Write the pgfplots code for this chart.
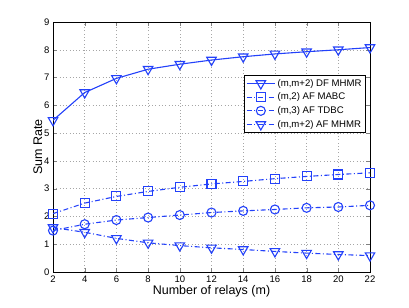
\documentclass[border=0pt]{standalone}
\usepackage{pgfplots}
\pgfplotsset{compat=1.18}
\usepackage{fontspec}
\setmainfont{Liberation Sans}
\definecolor{mblue}{RGB}{35,65,250}
\begin{document}
\begin{tikzpicture}
\begin{axis}[
  scale only axis, width=317pt, height=250pt,
  xmin=2, xmax=22, ymin=0, ymax=9,
  xtick={2,4,...,22}, ytick={0,1,...,9},
  tick align=inside, tick pos=both,
  major tick length=4pt,
  grid=major,
  grid style={dash pattern=on 0.7pt off 2.6pt, gray!70, line width=0.5pt},
  axis line style={line width=0.6pt},
  /pgf/number format/assume math mode=true,
  tick label style={font=\fontsize{9.5}{10}\selectfont},
  label style={font=\fontsize{12.5}{14}\selectfont},
  xlabel={Number of relays (m)},
  ylabel={Sum Rate},
  xlabel style={yshift=4pt},
  ylabel style={yshift=-5pt},
  legend style={at={(rel axis cs:0.987,0.788)}, anchor=north east,
    font=\fontsize{9.6}{10.5}\selectfont, draw=black, line width=0.6pt,
    inner sep=2pt, row sep=1.2pt, fill=white},
  legend cell align=left,
  legend image code/.code={\draw[mark repeat=2,mark phase=2] plot coordinates {(0cm,0cm) (0.5cm,0cm) (1.0cm,0cm)};},
  every axis plot/.append style={line width=1.1pt, color=mblue},
  mdashdot/.style={dash pattern=on 5pt off 2.5pt on 1pt off 2.5pt},
]
\addplot[solid, mark=triangle, mark size=5.5pt, mark options={rotate=180, solid, fill=white}] coordinates {
(2,5.46) (4,6.46) (6,6.97) (8,7.3) (10,7.48) (12,7.63) (14,7.75) (16,7.85) (18,7.93) (20,8.0) (22,8.08)};
\addlegendentry{(m,m+2) DF MHMR}
\addplot[mdashdot, mark=square, mark size=4.5pt, mark options={solid, fill=white}] coordinates {
(2,2.1) (4,2.48) (6,2.72) (8,2.9) (10,3.05) (12,3.17) (14,3.26) (16,3.36) (18,3.44) (20,3.51) (22,3.57)};
\addlegendentry{(m,2) AF MABC}
\addplot[mdashdot, mark=o, mark size=4.5pt, mark options={solid, fill=white}] coordinates {
(2,1.49) (4,1.72) (6,1.87) (8,1.96) (10,2.05) (12,2.14) (14,2.2) (16,2.25) (18,2.31) (20,2.34) (22,2.4)};
\addlegendentry{(m,3) AF TDBC}
\addplot[mdashdot, mark=triangle, mark size=5.5pt, mark options={rotate=180, solid, fill=white}] coordinates {
(2,1.6) (4,1.43) (6,1.21) (8,1.05) (10,0.95) (12,0.87) (14,0.81) (16,0.74) (18,0.68) (20,0.63) (22,0.59)};
\addlegendentry{(m,m+2) AF MHMR}
\end{axis}
\path (current axis.south west) +(-53pt,-36pt) (current axis.north east) +(39pt,22pt);
\end{tikzpicture}
\end{document}
